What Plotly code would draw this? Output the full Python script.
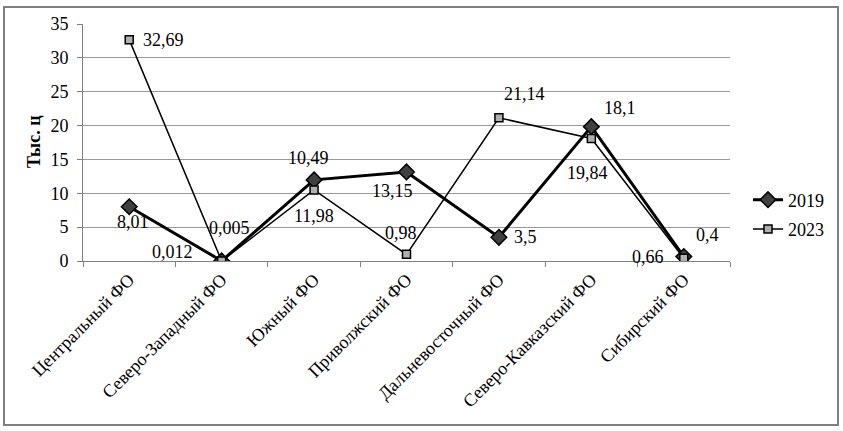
import plotly.graph_objects as go

categories = ["Центральный ФО", "Северо-Западный ФО", "Южный ФО", "Приволжский ФО",
              "Дальневосточный ФО", "Северо-Кавказский ФО", "Сибирский ФО"]
values_2019 = [8.01, 0.012, 11.98, 13.15, 3.5, 19.84, 0.66]
values_2023 = [32.69, 0.005, 10.49, 0.98, 21.14, 18.1, 0.4]
y_ticks = [0, 5, 10, 15, 20, 25, 30, 35]

# pixel offsets of data labels from their points (dx right, dy up)
off_2019 = [(4, -15), (-49, 9), (0, -36), (-14, -19), (27, 0), (-4, -46), (-36, 0)]
off_2023 = [(34, 0), (8, 33), (-6, 32), (-6, 21), (26, 24), (29, 30), (24, 23)]

FONT = "'Liberation Serif', 'Times New Roman', 'DejaVu Serif', serif"
FS = 18

fig = go.Figure()
fig.add_trace(go.Scatter(
    x=categories, y=values_2019, name="2019", mode="lines+markers",
    line=dict(color="black", width=3),
    marker=dict(symbol="diamond", size=12, color="#404040", line=dict(color="black", width=1.5)),
    legendgroup="a",
))
fig.add_trace(go.Scatter(
    x=categories, y=values_2023, name="2023", mode="lines+markers",
    line=dict(color="black", width=1.5),
    marker=dict(symbol="square", size=8, color="#b0b0b0", line=dict(color="black", width=1.5)),
    legendgroup="b",
))

def fmt(v):
    return str(v).replace(".", ",")

annotations = []
for vals, offs in ((values_2019, off_2019), (values_2023, off_2023)):
    for c, v, (dx, dy) in zip(categories, vals, offs):
        annotations.append(dict(
            x=c, y=v, xref="x", yref="y", text=fmt(v), showarrow=False,
            xshift=dx, yshift=dy, font=dict(family=FONT, size=FS, color="black"),
        ))

L, R, T, B = 83, 113, 24, 170
W, H = 843, 431
pw, ph = W - L - R, H - T - B

annotations.append(dict(
    text="<b>Тыс. ц</b>", xref="paper", yref="paper",
    x=(34 - L) / pw, y=(H - B - 142) / ph, xanchor="center", yanchor="middle",
    showarrow=False, textangle=-90,
    font=dict(family=FONT, size=FS, color="black"),
))

fig.update_layout(
    width=W, height=H,
    margin=dict(l=L, r=R, t=T, b=B),
    paper_bgcolor="white", plot_bgcolor="white",
    font=dict(family=FONT, size=FS, color="black"),
    showlegend=True,
    legend=dict(x=(748 - L) / pw, xanchor="left", y=(H - B - 214.5) / ph, yanchor="middle",
                font=dict(family=FONT, size=FS, color="black"),
                traceorder="grouped", tracegroupgap=3, bgcolor="rgba(0,0,0,0)"),
    annotations=annotations,
    shapes=[dict(type="rect", xref="paper", yref="paper",
                 x0=(4 - L) / pw, x1=(838 - L) / pw,
                 y0=(H - B - 425) / ph, y1=(H - B - 7) / ph,
                 line=dict(color="#808080", width=2), layer="below")],
)
fig.update_xaxes(
    type="category", range=[-0.5, 6.5], tickangle=-45, tickson="boundaries",
    ticks="outside", ticklen=5, tickcolor="#808080",
    showline=True, linecolor="#808080", linewidth=1, showgrid=False,
    tickfont=dict(family=FONT, size=18, color="black"),
)
fig.update_yaxes(
    range=[0, 35], tickvals=y_ticks, ticks="outside", ticklen=5, tickcolor="#808080",
    showline=True, linecolor="#808080", linewidth=1, ticklabelstandoff=5,
    showgrid=True, gridcolor="#999999", gridwidth=1, zeroline=False,
    tickfont=dict(family=FONT, size=FS, color="black"),
)

fig.write_html("out.html", config={"displayModeBar": False},
               post_script="document.body.style.margin='0';")
